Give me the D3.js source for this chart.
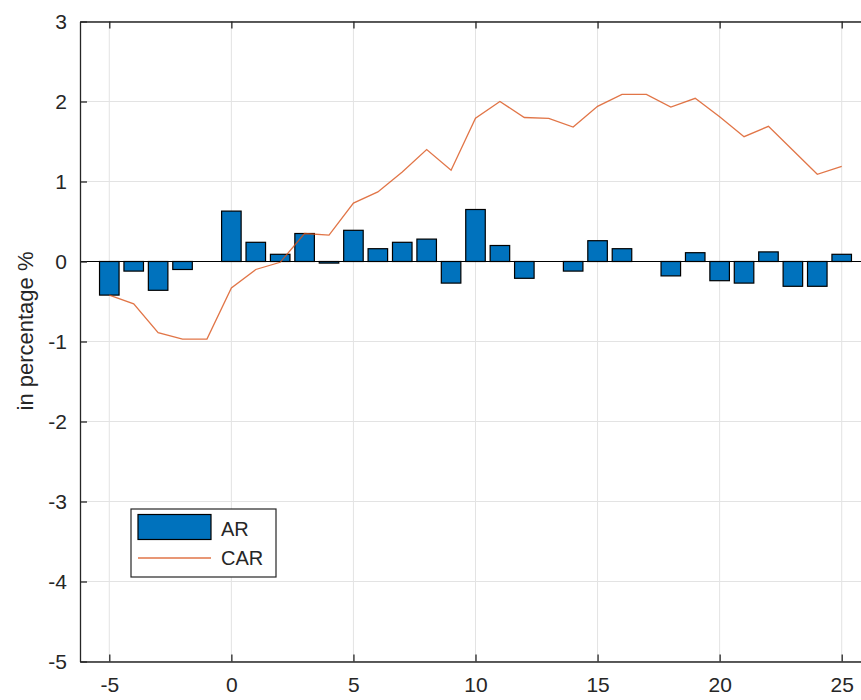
<!DOCTYPE html>
<html>
<head>
<meta charset="utf-8">
<script src="https://cdn.jsdelivr.net/npm/d3@7/dist/d3.min.js"></script>
<style>
  html, body { margin: 0; padding: 0; background: #fff; }
  svg { display: block; font-family: Arial, "Liberation Sans", sans-serif; }
</style>
</head>
<body>
<svg id="chart" width="861" height="700"></svg>
<script>
// Event window (days relative to the event)
const eventDays = [-5, -4, -3, -2, -1, 0, 1, 2, 3, 4, 5, 6, 7, 8, 9, 10,
                   11, 12, 13, 14, 15, 16, 17, 18, 19, 20, 21, 22, 23, 24, 25];

// Abnormal returns (AR), in percent
const arValues = [-0.42, -0.12, -0.36, -0.10, 0.00, 0.63, 0.24, 0.09, 0.35, -0.02,
                  0.39, 0.16, 0.24, 0.28, -0.27, 0.65, 0.20, -0.21, 0.00, -0.12,
                  0.26, 0.16, 0.00, -0.18, 0.11, -0.24, -0.27, 0.12, -0.31, -0.31, 0.09];

// Cumulative abnormal returns (CAR), in percent
const carValues = [-0.42, -0.53, -0.89, -0.97, -0.97, -0.33, -0.10, -0.01, 0.35, 0.33,
                   0.73, 0.87, 1.12, 1.40, 1.14, 1.79, 2.00, 1.80, 1.79, 1.68,
                   1.94, 2.09, 2.09, 1.93, 2.04, 1.81, 1.56, 1.69, 1.39, 1.09, 1.19];

// Tick values
const xTicks = [-5, 0, 5, 10, 15, 20, 25];
const yTicks = [-5, -4, -3, -2, -1, 0, 1, 2, 3];

const seriesNames = ["AR", "CAR"];

const axisColor = "#262626";
const barColor = "#0072BD";
const lineColor = "#D95319";
const gridColor = "#e3e3e3";

const svg = d3.select("#chart");

const plot = { left: 80, right: 871, top: 21.5, bottom: 661.5 };

const x = d3.scaleLinear().domain([-6.2, 26.2]).range([plot.left, plot.right]);
const y = d3.scaleLinear().domain([-5, 3]).range([plot.bottom, plot.top]);

const barWidth = (x(1) - x(0)) * 0.8;

// Grid
const grid = svg.append("g");
grid.selectAll("line.vx").data(xTicks).join("line")
  .attr("x1", d => x(d)).attr("x2", d => x(d))
  .attr("y1", plot.top).attr("y2", plot.bottom)
  .attr("stroke", gridColor).attr("stroke-width", 1);
grid.selectAll("line.hy").data(yTicks).join("line")
  .attr("x1", plot.left).attr("x2", plot.right)
  .attr("y1", d => y(d)).attr("y2", d => y(d))
  .attr("stroke", gridColor).attr("stroke-width", 1);

// AR bars
const rows = eventDays.map((d, i) => ({ day: d, ar: arValues[i], car: carValues[i] }));

svg.append("g").selectAll("rect").data(rows).join("rect")
  .attr("x", d => x(d.day) - barWidth / 2)
  .attr("width", barWidth)
  .attr("y", d => y(Math.max(0, d.ar)))
  .attr("height", d => Math.abs(y(d.ar) - y(0)))
  .attr("fill", barColor)
  .attr("stroke", "#000")
  .attr("stroke-width", 1.2);

// Baseline
svg.append("line")
  .attr("x1", plot.left).attr("x2", plot.right)
  .attr("y1", y(0)).attr("y2", y(0))
  .attr("stroke", "#000").attr("stroke-width", 1.2);

// CAR line
svg.append("path")
  .datum(rows)
  .attr("fill", "none")
  .attr("stroke", lineColor)
  .attr("stroke-width", 1.3)
  .attr("stroke-opacity", 0.8)
  .attr("d", d3.line().x(d => x(d.day)).y(d => y(d.car)));

// Axes (ticks pointing inward, box on all sides)
const fontSize = 21;
const xAxis = svg.append("g")
  .attr("transform", `translate(0,${plot.bottom})`)
  .call(d3.axisBottom(x).tickValues(xTicks).tickSize(-7).tickPadding(16).tickSizeOuter(0));
const xTop = svg.append("g")
  .attr("transform", `translate(0,${plot.top})`)
  .call(d3.axisTop(x).tickValues(xTicks).tickSize(-7).tickSizeOuter(0).tickFormat(""));
const yAxis = svg.append("g")
  .attr("transform", `translate(${plot.left},0)`)
  .call(d3.axisLeft(y).tickValues(yTicks).tickSize(-7).tickPadding(13).tickSizeOuter(0));
const yRight = svg.append("g")
  .attr("transform", `translate(${plot.right},0)`)
  .call(d3.axisRight(y).tickValues(yTicks).tickSize(-7).tickSizeOuter(0).tickFormat(""));

[xAxis, xTop, yAxis, yRight].forEach(g => {
  g.select(".domain").attr("stroke", axisColor).attr("stroke-width", 1.3);
  g.selectAll(".tick line").attr("stroke", axisColor).attr("stroke-width", 1.3);
  g.selectAll(".tick text")
    .attr("fill", axisColor)
    .attr("font-size", fontSize)
    .attr("font-family", "Arial, 'Liberation Sans', sans-serif");
});
xAxis.selectAll(".tick text").text(d => d < 0 ? "-" + Math.abs(d) : d);
yAxis.selectAll(".tick text").text(d => d < 0 ? "-" + Math.abs(d) : d);

// Y axis title
svg.append("text")
  .attr("transform", `translate(33,${331}) rotate(-90)`)
  .attr("text-anchor", "middle")
  .attr("font-size", 22)
  .attr("fill", axisColor)
  .text("in percentage %");

// Legend
const legend = svg.append("g");
legend.append("rect")
  .attr("x", 131).attr("y", 509).attr("width", 145).attr("height", 68)
  .attr("fill", "#fff").attr("stroke", axisColor).attr("stroke-width", 1.2);
legend.append("rect")
  .attr("x", 138).attr("y", 514.5).attr("width", 73).attr("height", 25)
  .attr("fill", barColor).attr("stroke", "#000").attr("stroke-width", 1.2);
legend.append("line")
  .attr("x1", 138).attr("x2", 211).attr("y1", 558).attr("y2", 558)
  .attr("stroke", lineColor).attr("stroke-width", 1.3).attr("stroke-opacity", 0.8);
legend.selectAll("text").data(seriesNames).join("text")
  .attr("x", 221)
  .attr("y", (d, i) => 529 + i * 29)
  .attr("dy", "0.35em")
  .attr("font-size", 20)
  .attr("fill", axisColor)
  .text(d => d);
</script>
</body>
</html>
